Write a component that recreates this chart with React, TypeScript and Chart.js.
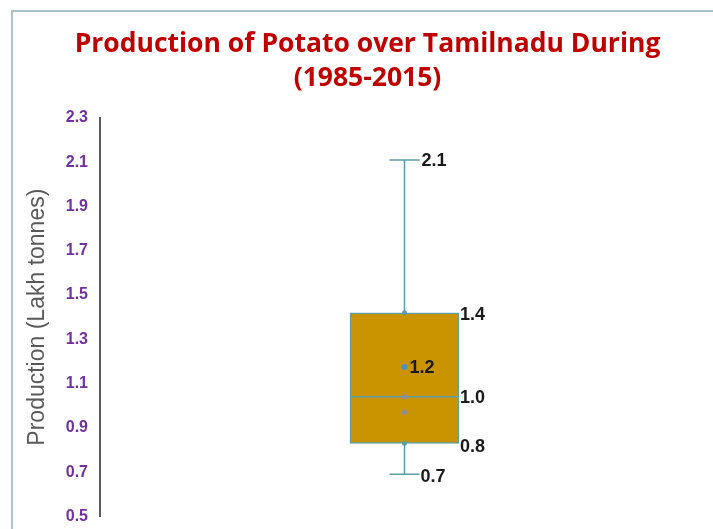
import React, { useEffect, useRef } from "react";
import { Chart, registerables } from "chart.js";

Chart.register(...registerables);

// ---- data ----
const categories = ["Potato"];
const minValues = [0.69];
const q1Values = [0.83];
const medianValues = [1.04];
const q3Values = [1.42];
const maxValues = [2.11];
const meanValues = [1.175];
const innerPoints = [1.04, 0.97];
const yTicks = [0.5, 0.7, 0.9, 1.1, 1.3, 1.5, 1.7, 1.9, 2.1, 2.3];
const titleLines = ["Production of Potato over Tamilnadu During", "(1985-2015)"];
const yTitle = "Production (Lakh tonnes)";

const BOX_FILL = "#C99400";
const BOX_LINE = "#5A9EA8";
const LABEL_FONT = "bold 18px 'Liberation Sans', Arial, sans-serif";

const boxPlugin = {
  id: "boxWhisker",
  afterDatasetsDraw(chart: any) {
    const ctx = chart.ctx;
    const y = chart.scales.y;
    const meta = chart.getDatasetMeta(0);
    meta.data.forEach((bar: any, i: number) => {
      const cx = bar.x;
      const half = bar.width / 2;
      const cap = 15;
      const yMin = y.getPixelForValue(minValues[i]);
      const yQ1 = y.getPixelForValue(q1Values[i]);
      const yMed = y.getPixelForValue(medianValues[i]);
      const yQ3 = y.getPixelForValue(q3Values[i]);
      const yMax = y.getPixelForValue(maxValues[i]);
      const yMean = y.getPixelForValue(meanValues[i]);
      ctx.save();
      ctx.strokeStyle = BOX_LINE;
      ctx.lineWidth = 1.5;
      ctx.beginPath();
      // whiskers
      ctx.moveTo(cx, yQ3);
      ctx.lineTo(cx, yMax);
      ctx.moveTo(cx - cap, yMax);
      ctx.lineTo(cx + cap, yMax);
      ctx.moveTo(cx, yQ1);
      ctx.lineTo(cx, yMin);
      ctx.moveTo(cx - cap, yMin);
      ctx.lineTo(cx + cap, yMin);
      // median
      ctx.moveTo(cx - half, yMed);
      ctx.lineTo(cx + half, yMed);
      ctx.stroke();
      // joint dots
      ctx.fillStyle = BOX_LINE;
      [yQ3, yQ1].forEach((py) => {
        ctx.beginPath();
        ctx.arc(cx, py, 2.5, 0, Math.PI * 2);
        ctx.fill();
      });
      // inner points
      ctx.fillStyle = "#8C8CA8";
      innerPoints.forEach((v) => {
        ctx.beginPath();
        ctx.arc(cx, y.getPixelForValue(v), 2.5, 0, Math.PI * 2);
        ctx.fill();
      });
      // mean
      ctx.fillStyle = "#4F8FBF";
      ctx.beginPath();
      ctx.arc(cx, yMean, 3, 0, Math.PI * 2);
      ctx.fill();
      // labels
      ctx.fillStyle = "#1a1a1a";
      ctx.font = LABEL_FONT;
      ctx.textBaseline = "middle";
      ctx.textAlign = "left";
      ctx.fillText(maxValues[i].toFixed(1), cx + cap + 2, yMax + 1);
      ctx.fillText(q3Values[i].toFixed(1), cx + half + 1, yQ3 + 2);
      ctx.fillText(medianValues[i].toFixed(1), cx + half + 1, yMed + 1);
      ctx.fillText(q1Values[i].toFixed(1), cx + half + 1, yQ1 + 4);
      ctx.fillText(minValues[i].toFixed(1), cx + cap + 1, yMin + 3);
      ctx.fillText(meanValues[i].toFixed(1), cx + 5, yMean + 1);
      ctx.restore();
    });
  },
};

export default function App() {
  const ref = useRef<HTMLCanvasElement>(null);
  useEffect(() => {
    if (!ref.current) return;
    const chart = new Chart(ref.current, {
      type: "bar",
      data: {
        labels: categories,
        datasets: [
          {
            data: categories.map((_, i) => [q1Values[i], q3Values[i]]) as any,
            backgroundColor: BOX_FILL,
            borderColor: BOX_LINE,
            borderWidth: 1.5,
            borderSkipped: false,
            barThickness: 109,
          },
        ],
      },
      options: {
        animation: false,
        responsive: false,
        maintainAspectRatio: false,
        layout: { padding: { left: 26, right: 4, top: 0, bottom: 11 } },
        plugins: {
          legend: { display: false },
          tooltip: { enabled: false },
          title: {
            display: true,
            text: titleLines,
            color: "#C00000",
            font: { family: "'Open Sans'", weight: "bold", size: 26.5, lineHeight: 1.3 },
            padding: { top: 27, bottom: 22 },
          },
        },
        scales: {
          x: { display: false },
          y: {
            min: 0.5,
            max: 2.3,
            afterBuildTicks: (scale: any) => {
              scale.ticks = yTicks.map((v) => ({ value: v }));
            },
            afterFit: (scale: any) => {
              scale.width = 74;
            },
            grid: {
              display: true,
              drawOnChartArea: false,
              drawTicks: true,
              tickLength: 9,
              color: "rgba(0,0,0,0)",
            },
            border: { display: true, color: "#595959", width: 2 },
            ticks: {
              color: "#7030A0",
              padding: 3,
              font: { family: "'Liberation Sans', Arial, sans-serif", weight: "bold", size: 16 },
              callback: (v: any) => Number(v).toFixed(1),
            },
            title: {
              display: true,
              text: yTitle,
              color: "#595959",
              font: { family: "'Liberation Sans', Arial, sans-serif", size: 23, lineHeight: 1.0 },
              padding: { top: 0, bottom: 0 },
            },
          },
        },
      },
      plugins: [boxPlugin],
    });
    return () => chart.destroy();
  }, []);
  return (
    <div style={{ position: "fixed", left: 0, top: 0, width: 713, height: 529, overflow: "hidden", background: "#fff" }}>
      <div style={{ position: "absolute", left: 11, top: 10, width: 800, height: 700, border: "2px solid #A9C4CC" }} />
      <canvas ref={ref} width={713} height={529} style={{ position: "absolute", left: 0, top: 0 }} />
    </div>
  );
}
